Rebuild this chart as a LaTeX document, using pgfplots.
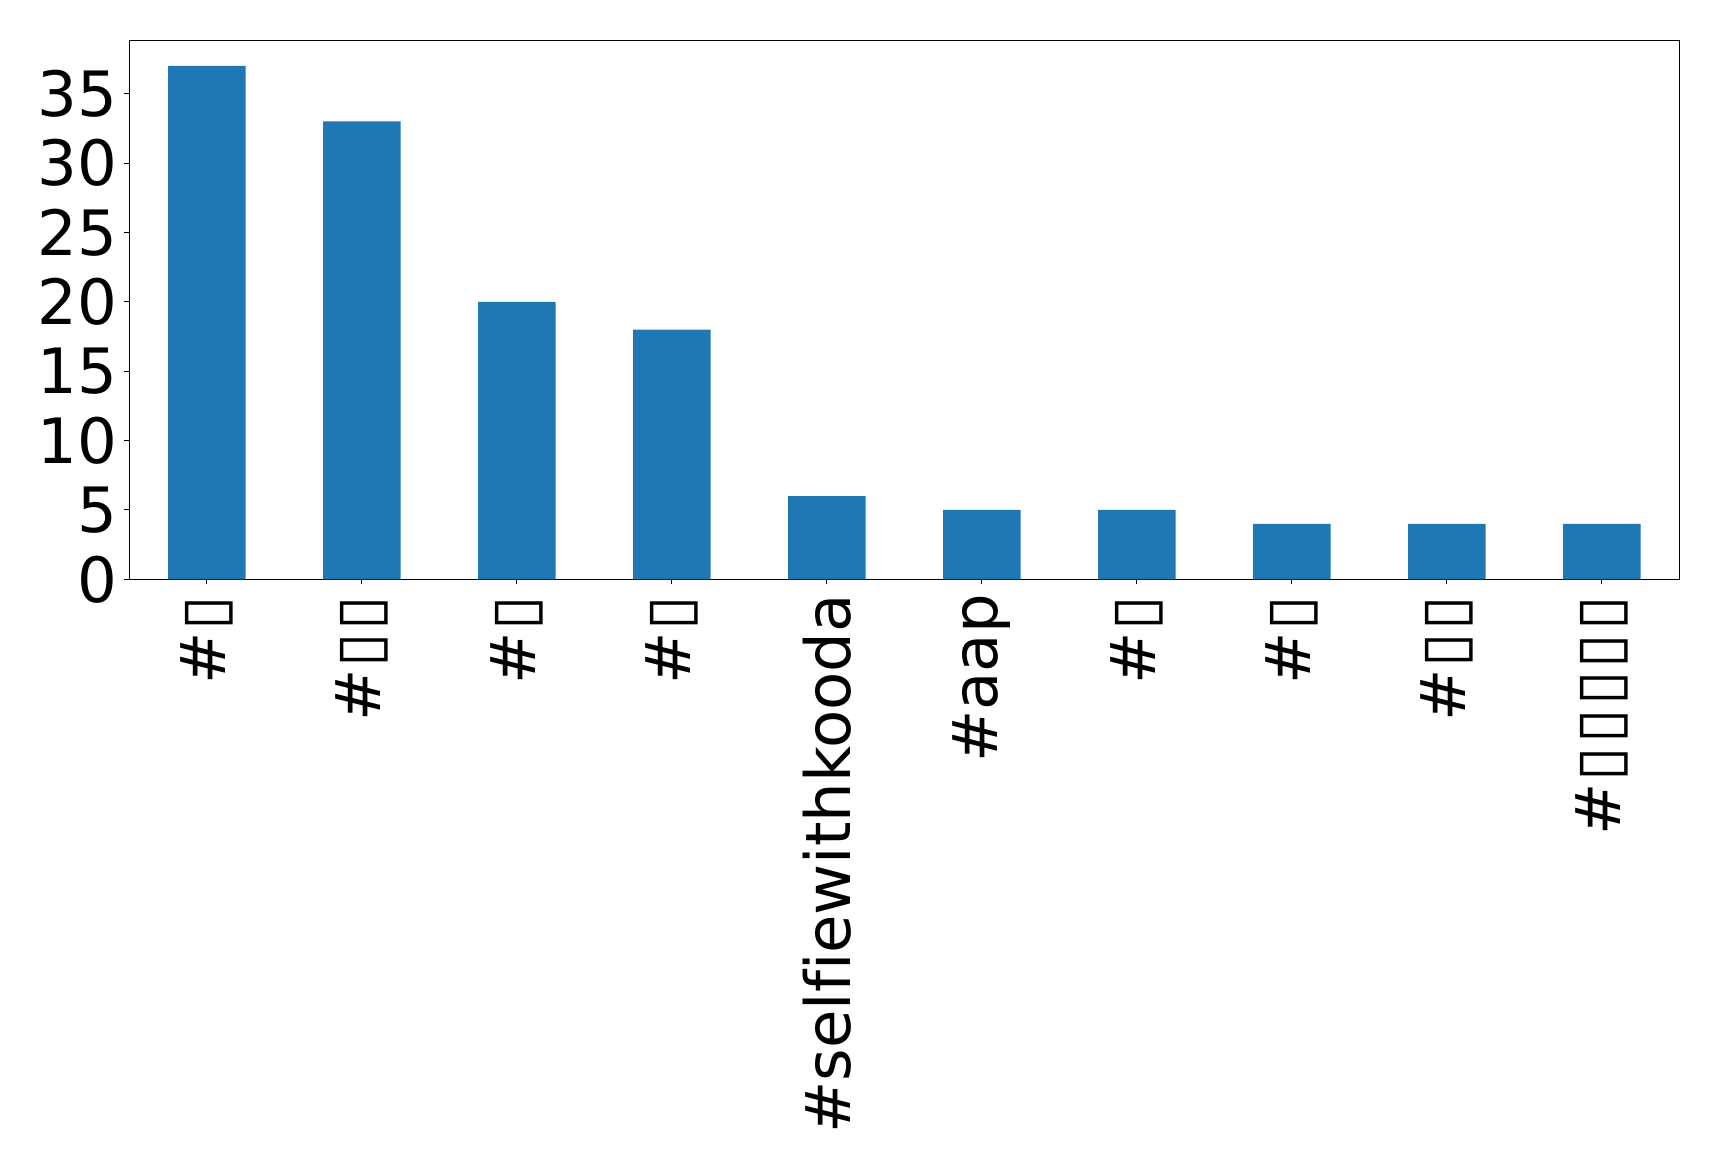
\documentclass[border=0pt]{standalone}
\usepackage{fontspec}
\setmainfont[Ligatures={NoCommon}]{DejaVu Sans}
\usepackage{pgfplots}
\pgfplotsset{compat=1.18}
\definecolor{barblue}{HTML}{1F77B4}
% box glyphs stand where the original font had no glyph
\newcommand{\tofu}{\kern1.2pt▯\kern1.2pt}
\begin{document}
\begin{tikzpicture}
\begin{axis}[
    name=ax,
    scale only axis,
    width=1116pt,
    height=388.1pt,
    ybar,
    bar width=0.5,
    xmin=-0.5, xmax=9.5,
    ymin=0, ymax=38.85,
    xtick={0,...,9},
    xticklabels={{\#\tofu},{\#\tofu\tofu},{\#\tofu},{\#\tofu},{\#selfiewithkooda},{\#aap},{\#\tofu},{\#\tofu},{\#\tofu\tofu},{\#\tofu\tofu\tofu\tofu\tofu}},
    ytick={0,5,...,35},
    xtick pos=bottom,
    ytick pos=left,
    tick align=outside,
    major tick length=3.5pt,
    every tick/.style={line width=0.8pt, black},
    axis line style={line width=0.8pt},
    tick label style={font=\fontsize{45}{54}\selectfont},
    /pgf/number format/assume math mode=true,
    xticklabel style={rotate=90, anchor=east, inner sep=0pt, xshift=-7pt},
    yticklabel style={inner sep=0pt, xshift=-5pt},
]
\addplot[fill=barblue, draw=none] coordinates {(0,37) (1,33) (2,20) (3,18) (4,6) (5,5) (6,5) (7,4) (8,4) (9,4)};
\end{axis}
\path ([shift={(-93.1pt,-423.9pt)}]ax.south west) rectangle ([shift={(28.6pt,29.0pt)}]ax.north east);
\end{tikzpicture}
\end{document}
